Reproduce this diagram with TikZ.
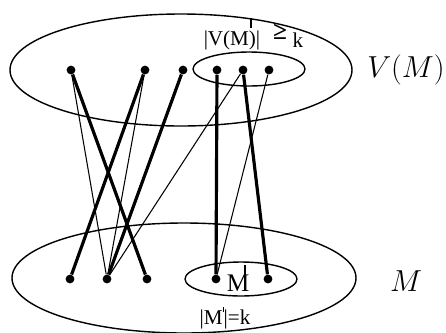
\documentclass[tikz,border=0pt]{standalone}
\usepackage{fontspec}
\newfontfamily\timesfont{Liberation Serif}
\usetikzlibrary{positioning}

\begin{document}
\begin{tikzpicture}[
    x=0.02cm, y=-0.02cm,
    vertex/.style={circle, fill, inner sep=0pt, minimum size=5pt},
    set/.style={draw, line width=0.8pt},
    light/.style={line width=0.6pt},
    heavy/.style={line width=1.8pt},
    lbl/.style={font=\timesfont\large, inner sep=0pt},
    big/.style={font=\fontsize{19}{22}\selectfont, inner sep=0pt},
]
\useasboundingbox (0,0) rectangle (446,332);

% the two sets
\draw[set] (181,70) ellipse [x radius=171, y radius=56];
\draw[set] (249,69) ellipse [x radius=56, y radius=17];
\draw[set] (184,278) ellipse [x radius=172, y radius=55];
\draw[set] (241,279) ellipse [x radius=56, y radius=17];

% upper vertices
\node[vertex] (u1) at (71,70) {};
\node[vertex] (u2) at (145,70) {};
\node[vertex] (u3) at (183,70) {};
\node[vertex] (u4) at (217,70) {};
\node[vertex] (u5) at (243,70) {};
\node[vertex] (u6) at (269,70) {};

% lower vertices
\node[vertex] (w1) at (70,279) {};
\node[vertex] (w2) at (107,279) {};
\node[vertex] (w3) at (147,279) {};
\node[vertex] (w4) at (216,279) {};
\node[vertex] (w5) at (268,279) {};

% edges
\draw[heavy] (u1) -- (w3);
\draw[light] (u1) -- (w2);
\draw[heavy] (u2) -- (w1);
\draw[light] (u2) -- (w2);
\draw[heavy] (u3) -- (w2);
\draw[heavy] (u4) -- (w4);
\draw[light] (u5) -- (w2);
\draw[heavy] (u5) -- (w5);
\draw[light] (u6) -- (w4);

% labels
\node[lbl] (vmsize) at (232,40) {|V(M)|};
\node[lbl, font=\timesfont\Large\bfseries] (geq) at (280,32) {≥};
\node[lbl] (k) at (298,40) {k};
\draw[light] (251,18) -- (251,28);
\node[lbl, font=\timesfont\Large] (mprime) at (238,283) {M};
\draw[light] (245,265) -- (245,275);
\node[lbl] (msize) at (225,318) {|M\rule[1.3ex]{0.6pt}{0.55ex}|=k};
\node[big, anchor=east] (vmlabel) at (445,70) {$V(M)$};
\node[big] (mlabel) at (406,281) {$M$};
\end{tikzpicture}
\end{document}
